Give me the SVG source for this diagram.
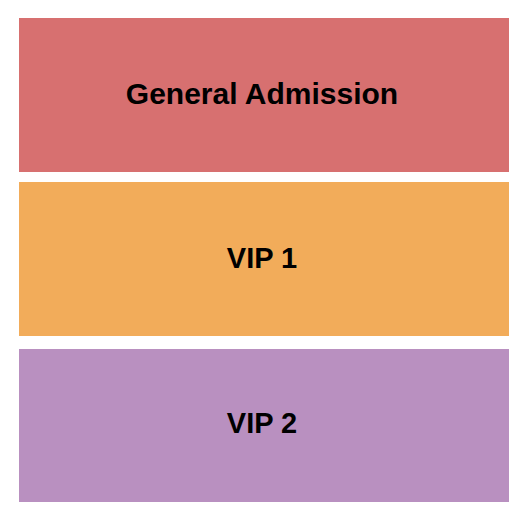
<svg xmlns="http://www.w3.org/2000/svg" width="525" height="525" viewBox="0 0 525 525">
<style>
.lbl{font-family:"Liberation Sans",Arial,sans-serif;font-weight:bold;font-size:29px;fill:#000;text-anchor:middle}
</style>
<rect width="525" height="525" fill="#fff"/>
<g id="ga"><rect x="19" y="18" width="490" height="154" fill="#D77070"/><text class="lbl" x="262" y="104" style="font-size:30px">General Admission</text></g>
<g id="vip1"><rect x="19" y="182" width="490" height="154" fill="#F2AC5A"/><text class="lbl" x="262" y="268">VIP 1</text></g>
<g id="vip2"><rect x="19" y="349" width="490" height="153" fill="#B990C0"/><text class="lbl" x="262" y="433">VIP 2</text></g>
<g id="connectors"/>
</svg>
